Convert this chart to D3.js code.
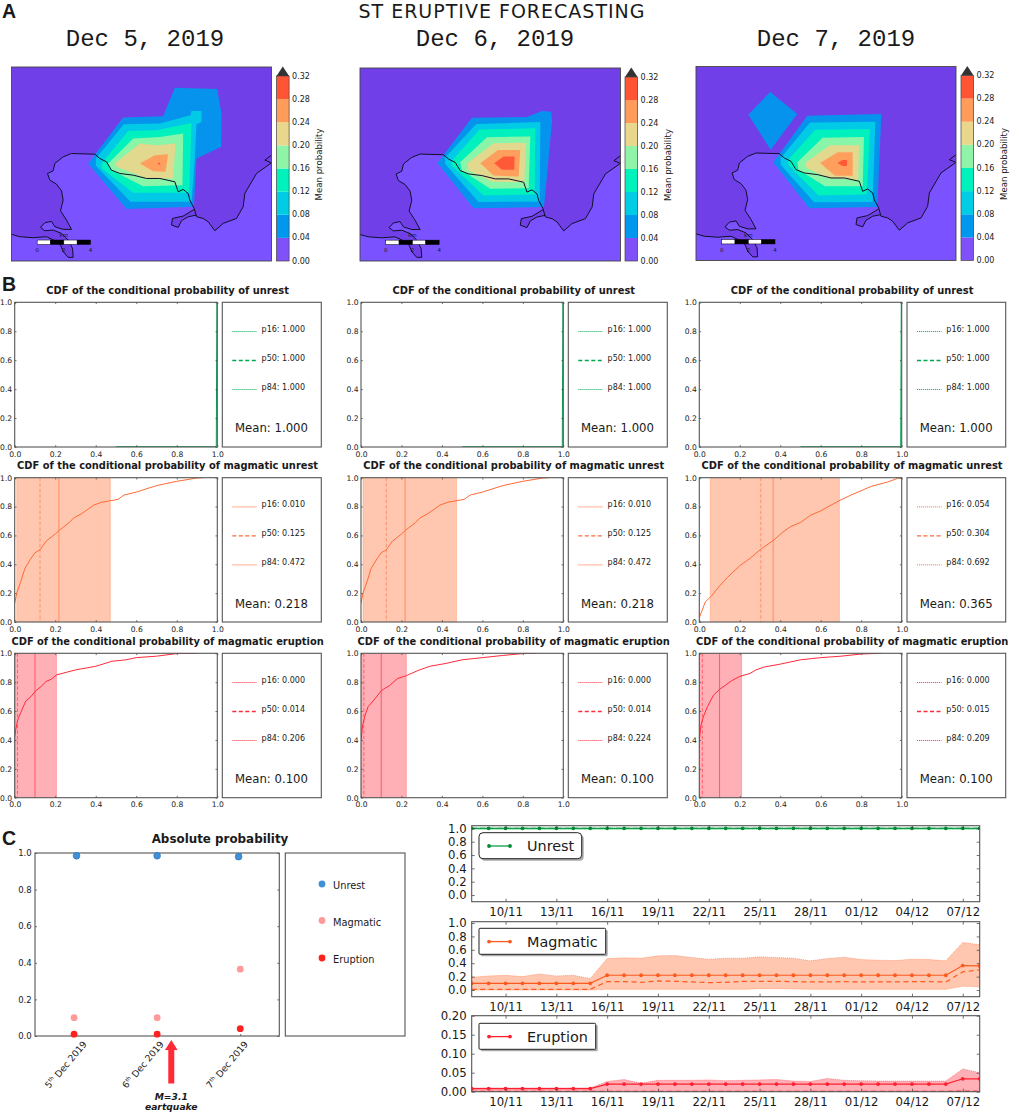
<!DOCTYPE html>
<html lang="en">
<head>
<meta charset="UTF-8">
<title>ST eruptive forecasting</title>
<script src="https://cdn.jsdelivr.net/npm/d3@7"></script>
<style>
  html, body { margin: 0; padding: 0; background: #fff; }
  svg { display: block; font-family: "DejaVu Sans", sans-serif; }
  text { fill: #1a1a1a; }
</style>
</head>
<body>
<div id="container"></div>
<script>
// --- panel A: contour polygons in map units (780 x 583) ---
const mapDates = ["Dec 5, 2019", "Dec 6, 2019", "Dec 7, 2019"];
const levels = [0, 0.04, 0.08, 0.12, 0.16, 0.2, 0.24, 0.28, 0.32];
const levelColors = ["#8050f8", "#0098ee", "#00cce4", "#00f2bc", "#90f4a8", "#e8d78c", "#ff9c5c", "#ff5535"];

const contoursDec5 = [
  [[230,290],[335,152],[455,148],[490,62],[617,66],[630,140],[629,240],[555,275],[547,420],[345,427]],
  [[253,275],[337,172],[445,170],[537,145],[540,132],[570,132],[570,165],[555,172],[550,275],[540,405],[357,405],[253,297]],
  [[270,290],[350,192],[435,190],[540,168],[533,378],[365,378],[270,305]],
  [[290,290],[365,215],[445,210],[515,200],[513,355],[395,358],[300,310]],
  [[310,290],[385,230],[435,235],[492,230],[485,335],[405,335],[315,300]],
  [[385,290],[430,265],[470,262],[462,315],[425,313]],
  [[440,288],[446,288],[446,293],[440,293]]
];
const contoursDec6 = [
  [[232,287],[335,150],[500,148],[545,130],[573,132],[575,160],[552,410],[550,420],[340,424]],
  [[255,270],[348,169],[540,163],[540,185],[538,403],[355,405],[255,290]],
  [[275,280],[358,186],[525,182],[523,382],[370,385],[275,295]],
  [[300,285],[380,209],[510,207],[505,363],[390,365],[305,310]],
  [[322,288],[400,227],[497,226],[492,345],[395,343],[325,310]],
  [[360,288],[413,248],[480,248],[475,328],[400,325]],
  [[402,288],[430,267],[463,267],[462,307],[425,307]]
];
const contoursDec7 = [
  [[232,288],[334,148],[556,143],[544,422],[340,426]],
  [[254,275],[342,168],[538,166],[530,407],[354,408],[254,295]],
  [[277,280],[357,190],[522,188],[512,385],[367,388],[277,295]],
  [[304,288],[380,214],[504,212],[500,360],[387,360],[307,310]],
  [[327,290],[402,237],[489,237],[487,340],[397,335],[332,305]],
  [[372,290],[425,258],[470,258],[470,328],[417,328]],
  [[424,290],[440,281],[453,281],[453,299],[440,299]]
];
const diamondDec7 = [[157,145],[222,77],[304,143],[224,250]];

const coast = [[0,503],[25,510],[65,513],[105,510],[130,522],[147,535],[155,555],[170,572],[185,572],[183,545],[170,520],[150,500],[125,490],[100,492],[87,482],[100,468],[120,464],[130,480],[155,488],[180,488],[165,460],[147,432],[155,400],[150,372],[135,352],[115,340],[108,320],[125,312],[130,290],[155,270],[180,260],[250,262],[265,275],[285,285],[300,310],[325,320],[365,325],[405,335],[445,335],[490,345],[500,375],[515,368],[530,380],[535,400],[548,425],[555,450],[575,455],[590,465],[610,492],[635,470],[675,455],[695,420],[700,380],[735,320],[780,288]];
const peninsula = [[555,445],[530,450],[510,462],[500,482],[480,475],[483,455],[515,448],[548,428]];
const headland = [[780,265],[760,280],[780,288]];

// --- panel B: CDF curves [value, cumulative probability] ---
const cdfUnrest = [[0.5,0.002],[0.995,0.002],[0.998,1]];
const cdfMagmaticDec5 = [[0,0.13],[0.01,0.2],[0.03,0.28],[0.05,0.37],[0.08,0.44],[0.1,0.48],[0.125,0.5],[0.155,0.56],[0.2,0.61],[0.22,0.635],[0.27,0.69],[0.29,0.72],[0.33,0.75],[0.39,0.81],[0.43,0.83],[0.47,0.84],[0.51,0.85],[0.54,0.88],[0.6,0.9],[0.7,0.945],[0.8,0.975],[0.9,0.998],[0.93,1]];
const cdfMagmaticDec7 = [[0,0.03],[0.03,0.14],[0.06,0.18],[0.1,0.25],[0.14,0.31],[0.2,0.39],[0.25,0.44],[0.3,0.5],[0.37,0.57],[0.41,0.62],[0.45,0.66],[0.5,0.69],[0.53,0.72],[0.55,0.74],[0.6,0.77],[0.69,0.84],[0.75,0.88],[0.85,0.94],[0.93,0.97],[0.98,0.995],[1,1]];
const cdfEruptionDec5 = [[0,0.42],[0.005,0.47],[0.015,0.54],[0.03,0.59],[0.055,0.67],[0.08,0.7],[0.1,0.735],[0.13,0.77],[0.155,0.805],[0.18,0.82],[0.206,0.85],[0.3,0.885],[0.4,0.91],[0.48,0.945],[0.55,0.955],[0.6,0.97],[0.7,0.98],[0.8,0.998],[0.9,1]];
const cdfEruptionDec6 = [[0,0.4],[0.008,0.5],[0.02,0.57],[0.035,0.63],[0.06,0.67],[0.1,0.74],[0.12,0.76],[0.14,0.775],[0.18,0.825],[0.224,0.845],[0.28,0.88],[0.34,0.91],[0.42,0.93],[0.5,0.955],[0.6,0.97],[0.7,0.985],[0.8,0.998],[0.87,1]];
const cdfEruptionDec7 = [[0,0.4],[0.008,0.5],[0.02,0.56],[0.04,0.63],[0.07,0.71],[0.1,0.75],[0.13,0.78],[0.16,0.81],[0.2,0.84],[0.25,0.86],[0.28,0.885],[0.32,0.905],[0.4,0.925],[0.5,0.955],[0.6,0.97],[0.7,0.98],[0.8,0.995],[0.9,1]];

const pctUnrest = [[1,1,1],[1,1,1],[1,1,1]];
const pctMagmatic = [[0.010,0.125,0.472],[0.010,0.125,0.472],[0.054,0.304,0.692]];
const pctEruption = [[0.000,0.014,0.206],[0.000,0.014,0.224],[0.000,0.015,0.209]];
const meanUnrest = [1,1,1];
const meanMagmatic = [0.218,0.218,0.365];
const meanEruption = [0.100,0.100,0.100];

// --- panel C left: absolute probability ---
const absDays = [5, 6, 7];
const absDayLabels = ["5", "6", "7"];
const absUnrestDays = [5.03, 6, 6.98];
const absUnrest = [0.985, 0.985, 0.98];
const absMagmatic = [0.10, 0.10, 0.365];
const absEruption = [0.01, 0.01, 0.04];
const quakeDay = 6.17;

// --- panel C right: daily series from 8 Nov to 8 Dec ---
const seriesDays = d3.timeDay.range(new Date(2019, 10, 8), new Date(2019, 11, 9));
const seriesTicks = d3.timeDay.range(new Date(2019, 10, 10), new Date(2019, 11, 9), 3);

const unrestMean = Array.from(seriesDays, () => 1);
const unrestLow = Array.from(seriesDays, () => 0.985);
const unrestHigh = Array.from(seriesDays, () => 1);

const magmaticMean = [0.1,0.1,0.1,0.1,0.1,0.1,0.1,0.1,0.22,0.22,0.22,0.22,0.22,0.22,0.22,0.22,0.22,0.22,0.22,0.22,0.22,0.22,0.22,0.22,0.22,0.22,0.22,0.22,0.22,0.365,0.36];
const magmaticHigh = [0.19,0.21,0.22,0.2,0.24,0.21,0.22,0.17,0.47,0.48,0.475,0.51,0.515,0.485,0.46,0.475,0.475,0.495,0.485,0.475,0.435,0.47,0.49,0.455,0.445,0.44,0.46,0.455,0.435,0.71,0.675];
const magmaticMedian = [0.01,0.01,0.01,0.01,0.01,0.01,0.01,0.01,0.125,0.125,0.115,0.135,0.13,0.12,0.11,0.115,0.13,0.13,0.13,0.125,0.12,0.12,0.125,0.12,0.12,0.12,0.125,0.125,0.12,0.27,0.3];
const magmaticLow = [0,0,0,0,0,0,0,0,0.01,0.01,0.01,0.01,0.01,0.01,0.01,0.01,0.01,0.02,0.02,0.015,0.01,0.01,0.01,0.01,0.01,0.01,0.01,0.01,0.01,0.055,0.045];

const eruptionMean = [0.008,0.008,0.008,0.008,0.008,0.008,0.008,0.008,0.02,0.02,0.02,0.02,0.02,0.02,0.02,0.02,0.02,0.02,0.02,0.02,0.02,0.02,0.02,0.02,0.02,0.02,0.02,0.02,0.02,0.034,0.034];
const eruptionHigh = [0.01,0.01,0.01,0.01,0.01,0.01,0.01,0.01,0.027,0.032,0.022,0.03,0.03,0.03,0.031,0.029,0.03,0.031,0.032,0.028,0.027,0.035,0.03,0.029,0.028,0.028,0.028,0.028,0.028,0.06,0.05];
const eruptionMedian = [0.001,0.001,0.001,0.001,0.001,0.001,0.001,0.001,0.001,0.001,0.001,0.001,0.001,0.001,0.001,0.001,0.001,0.001,0.001,0.001,0.001,0.001,0.001,0.001,0.001,0.001,0.001,0.001,0.001,0.002,0.001];
const eruptionLow = Array.from(seriesDays, () => 0);

const frameColor = "#555";
const svg = d3.select("#container").append("svg")
  .attr("width", 1010).attr("height", 1115).attr("viewBox", [0, 0, 1010, 1115]);

let clipCount = 0;
function addClip(x0, y0, w, h) {
  const id = "clip" + (clipCount++);
  svg.append("clipPath").attr("id", id).append("rect")
    .attr("x", x0).attr("y", y0).attr("width", w).attr("height", h);
  return `url(#${id})`;
}

function label(txt, x, y, size, opts = {}) {
  return svg.append("text").attr("x", x).attr("y", y).attr("font-size", size)
    .attr("text-anchor", opts.anchor || "start")
    .attr("font-weight", opts.weight || "normal")
    .attr("font-family", opts.family || null)
    .attr("letter-spacing", opts.spacing || null)
    .text(txt);
}

// frame plus matplotlib style inward ticks on all four sides
function axesFrame(x, y, xTicks, yTicks, fmtX, fmtY, size, padX, padY, tick) {
  const [x0, x1] = x.range(), [y1, y0] = y.range();
  const g = svg.append("g").attr("font-size", size);
  const style = a => {
    a.select(".domain").remove();
    a.selectAll("line").attr("stroke", "#333").attr("stroke-width", 0.7);
    a.selectAll("text").attr("font-size", size).attr("font-family", "DejaVu Sans").attr("fill", "#1a1a1a");
  };
  g.append("g").attr("transform", `translate(0,${y1})`)
    .call(d3.axisBottom(x).tickValues(xTicks).tickFormat(fmtX).tickSize(-tick).tickPadding(padX)).call(style);
  g.append("g").attr("transform", `translate(0,${y0})`)
    .call(d3.axisTop(x).tickValues(xTicks).tickFormat("").tickSize(-tick)).call(style);
  g.append("g").attr("transform", `translate(${x0},0)`)
    .call(d3.axisLeft(y).tickValues(yTicks).tickFormat(fmtY).tickSize(-tick).tickPadding(padY)).call(style);
  g.append("g").attr("transform", `translate(${x1},0)`)
    .call(d3.axisRight(y).tickValues(yTicks).tickFormat("").tickSize(-tick)).call(style);
  boxRect(x0, y0, x1 - x0, y1 - y0);
}

function boxRect(x0, y0, w, h) {
  svg.append("rect").attr("x", x0).attr("y", y0).attr("width", w).attr("height", h)
    .attr("fill", "none").attr("stroke", frameColor).attr("stroke-width", 1.1);
}

// ---------- headings ----------
label("ST ERUPTIVE FORECASTING", 502, 18, 19, { anchor: "middle", spacing: 1 });
label("A", 2, 18, 19.5, { weight: "bold", family: "Liberation Sans" });
label("B", 2, 291, 19.5, { weight: "bold", family: "Liberation Sans" });
label("C", 2, 845, 19.5, { weight: "bold", family: "Liberation Sans" });

// ---------- panel A ----------
const mapBoxes = [
  { x0: 11.5, x1: 271.5, y0: 67, y1: 261, barX: 276.5, barTop: 76, dateX: 145 },
  { x0: 360, x1: 620.5, y0: 68, y1: 261, barX: 625, barTop: 77, dateX: 495 },
  { x0: 696, x1: 956, y0: 66.5, y1: 260.5, barX: 961, barTop: 75.5, dateX: 836 }
];
const mapContours = [contoursDec5, contoursDec6, contoursDec7];
const barW = 12.6;
const landColor = "#703fe8", seaColor = "#7b52ff";

mapBoxes.forEach((b, i) => {
  label(mapDates[i], b.dateX, 46, 24, { anchor: "middle", family: "Liberation Mono" });
  const mx = d3.scaleLinear().domain([0, 780]).range([b.x0, b.x1]);
  const my = d3.scaleLinear().domain([0, 583]).range([b.y0, b.y1]);
  const poly = d3.line().x(d => mx(d[0])).y(d => my(d[1]));
  const g = svg.append("g").attr("clip-path", addClip(b.x0, b.y0, b.x1 - b.x0, b.y1 - b.y0));
  g.append("rect").attr("x", b.x0).attr("y", b.y0).attr("width", b.x1 - b.x0).attr("height", b.y1 - b.y0)
    .attr("fill", landColor);
  // the sea side of the coast sits a little lighter than the land
  const sea = coast.concat([[780, 583], [0, 583]]);
  g.append("path").attr("d", poly(sea) + "Z").attr("fill", seaColor);
  g.append("path").attr("d", poly(peninsula) + "Z").attr("fill", landColor);
  if (i === 2) {
    g.append("path").attr("d", poly(diamondDec7) + "Z").attr("fill", levelColors[1]).attr("fill-opacity", 0.95);
  }
  g.selectAll("path.band").data(mapContours[i]).join("path").attr("class", "band")
    .attr("d", d => poly(d) + "Z")
    .attr("fill", (d, k) => levelColors[k + 1]).attr("fill-opacity", 0.95);
  [coast, peninsula, headland].forEach(c => {
    g.append("path").attr("d", poly(c)).attr("fill", "none").attr("stroke", "#10102a").attr("stroke-width", 1);
  });
  svg.append("rect").attr("x", b.x0).attr("y", b.y0).attr("width", b.x1 - b.x0).attr("height", b.y1 - b.y0)
    .attr("fill", "none").attr("stroke", "#444").attr("stroke-width", 0.9);

  // scale bar, 0 to 4 km
  const km = d3.scaleLinear().domain([0, 4]).range([mx(77), mx(237)]);
  const sy = my(520);
  d3.range(4).forEach(k => {
    svg.append("rect").attr("x", km(k)).attr("y", sy).attr("width", km(k + 1) - km(k)).attr("height", 4.4)
      .attr("fill", k % 2 ? "#000" : "#fff").attr("stroke", "#000").attr("stroke-width", 0.5);
  });
  [0, 2, 4].forEach(v => label(String(v), km(v), sy + 12, 5.5, { anchor: "middle" }));
  label("km", km(2), sy - 3, 5.5, { anchor: "middle" });

  // colour bar
  const by = d3.scaleLinear().domain([0, 0.32]).range([b.y1, b.barTop]);
  svg.append("g").selectAll("rect").data(levelColors).join("rect")
    .attr("x", b.barX).attr("width", barW)
    .attr("y", (d, k) => by(levels[k + 1]))
    .attr("height", (d, k) => by(levels[k]) - by(levels[k + 1]))
    .attr("fill", d => d);
  svg.append("path")
    .attr("d", `M${b.barX},${b.barTop}L${b.barX + barW / 2},${b.barTop - 9.5}L${b.barX + barW},${b.barTop}Z`)
    .attr("fill", "#333");
  svg.append("rect").attr("x", b.barX).attr("y", b.barTop).attr("width", barW).attr("height", b.y1 - b.barTop)
    .attr("fill", "none").attr("stroke", "#444").attr("stroke-width", 0.7);
  levels.forEach(v => {
    label(v.toFixed(2), b.barX + barW + 3, by(v) + 2.5, 8);
  });
  const ly = (b.y1 + b.barTop) / 2 - 4;
  label("Mean probability", 0, 0, 8.6, { anchor: "middle" })
    .attr("transform", `translate(${b.barX + barW + 33},${ly}) rotate(-90)`)
    .attr("x", null).attr("y", null);
});

// ---------- panel B ----------
const cdfCols = [
  { x0: 14.7, x1: 217.3, bx0: 222.3, bx1: 321.3 },
  { x0: 361, x1: 563.3, bx0: 568.3, bx1: 667.3 },
  { x0: 699.3, x1: 901.7, bx0: 907, bx1: 1005.7 }
];
const cdfRows = [
  { y0: 302.3, y1: 447, title: "CDF of the conditional probability of unrest", color: "#00a651", band: null,
    curves: [cdfUnrest, cdfUnrest, cdfUnrest], pct: pctUnrest, mean: meanUnrest },
  { y0: 477.7, y1: 622, title: "CDF of the conditional probability of magmatic unrest", color: "#ff6a35", band: "#ffc7b0",
    curves: [cdfMagmaticDec5, cdfMagmaticDec5, cdfMagmaticDec7], pct: pctMagmatic, mean: meanMagmatic },
  { y0: 653.3, y1: 797.7, title: "CDF of the conditional probability of magmatic eruption", color: "#ff2a3a", band: "#ffb0b6",
    curves: [cdfEruptionDec5, cdfEruptionDec6, cdfEruptionDec7], pct: pctEruption, mean: meanEruption }
];
const unitTicks = [0, 0.2, 0.4, 0.6, 0.8, 1];
const titleY = [294, 469, 644.5];

cdfRows.forEach((row, r) => {
  cdfCols.forEach((c, i) => {
    label(row.title, (c.x0 + c.bx1) / 2 - 0.4, titleY[r], 9.9, { anchor: "middle", weight: "bold" });
    const x = d3.scaleLinear().domain([0, 1]).range([c.x0, c.x1]);
    const y = d3.scaleLinear().domain([0, 1]).range([row.y1, row.y0]);
    const [p16, p50, p84] = row.pct[i];
    const g = svg.append("g").attr("clip-path", addClip(c.x0, row.y0, c.x1 - c.x0, row.y1 - row.y0));
    if (row.band) {
      g.append("rect").attr("x", x(p16)).attr("y", row.y0).attr("width", x(p84) - x(p16)).attr("height", row.y1 - row.y0)
        .attr("fill", row.band);
      g.selectAll("line.edge").data([p16, p84]).join("line").attr("class", "edge")
        .attr("x1", d => x(d)).attr("x2", d => x(d)).attr("y1", row.y0).attr("y2", row.y1)
        .attr("stroke", row.color).attr("stroke-width", 0.5).attr("stroke-opacity", 0.6);
      g.append("line").attr("x1", x(p50)).attr("x2", x(p50)).attr("y1", row.y0).attr("y2", row.y1)
        .attr("stroke", row.color).attr("stroke-width", 1).attr("stroke-dasharray", "3.5 2").attr("stroke-opacity", 0.6);
      g.append("line").attr("x1", x(row.mean[i])).attr("x2", x(row.mean[i])).attr("y1", row.y0).attr("y2", row.y1)
        .attr("stroke", row.color).attr("stroke-width", 1.1).attr("stroke-opacity", 0.6);
    }
    g.append("path").datum(row.curves[i])
      .attr("d", d3.line().x(d => x(d[0])).y(d => y(d[1])))
      .attr("fill", "none").attr("stroke", row.color).attr("stroke-width", 1);
    axesFrame(x, y, unitTicks, unitTicks, d3.format(".1f"), d3.format(".1f"), 7.6, 4.4, 2.5, 1.8);

    // side box with percentiles and mean
    boxRect(c.bx0, row.y0, c.bx1 - c.bx0, row.y1 - row.y0);
    ["p16", "p50", "p84"].forEach((name, k) => {
      const ty = row.y0 + 28 + 29 * k;
      const dashed = k === 1;
      svg.append("line").attr("x1", c.bx0 + 10).attr("x2", c.bx0 + 34.5).attr("y1", ty + 1.2).attr("y2", ty + 1.2)
        .attr("stroke", row.color)
        .attr("stroke-width", dashed ? 1.4 : 1)
        .attr("stroke-dasharray", dashed ? "4 2.5" : "1.2 0.8")
        .attr("stroke-opacity", dashed ? 1 : 0.85);
      label(`${name}: ${row.pct[i][k].toFixed(3)}`, c.bx0 + 39.3, ty + 1.2, 8);
    });
    label(`Mean: ${row.mean[i].toFixed(3)}`, c.bx0 + 12.7, row.y0 + 130, 11.7);
  });
});

// ---------- panel C, absolute probability ----------
const ax = d3.scaleLinear().domain([4.53, 7.47]).range([35, 279.3]);
const ay = d3.scaleLinear().domain([0, 1]).range([1036, 853]);
axesFrame(ax, ay, absDays, [0, 0.2, 0.4, 0.6, 0.8, 1], () => "", d3.format(".1f"), 8.5, 3, 3.3, 2);
label("Absolute probability", 220, 842.5, 11.9, { anchor: "middle", weight: "bold" });

const dotSets = [
  { days: absDays, vals: absMagmatic, color: "#ff9a9a", line: "none" },
  { days: absDays, vals: absEruption, color: "#ff2020", line: "none" },
  { days: absUnrestDays, vals: absUnrest, color: "#4090d8", line: "#2a70b0" }
];
dotSets.forEach(s => {
  svg.append("g").selectAll("circle").data(s.vals).join("circle")
    .attr("cx", (d, i) => ax(s.days[i])).attr("cy", d => ay(d)).attr("r", 3.4)
    .attr("fill", s.color).attr("stroke", s.line).attr("stroke-width", 0.6);
});

absDays.forEach((d, i) => {
  const t = svg.append("text").attr("font-size", 9.2).attr("text-anchor", "end")
    .attr("transform", `translate(${ax(d) + [8, 2, 3][i]},${1040}) rotate(-50)`)
    .attr("dy", "0.7em");
  t.append("tspan").text(absDayLabels[i]);
  t.append("tspan").attr("font-size", 5.5).attr("dy", "-0.6em").text("th");
  t.append("tspan").attr("dy", "0.4em").text(" Dec 2019");
});

// earthquake arrow
const qx = ax(quakeDay);
svg.append("path")
  .attr("d", `M${qx - 3},1083.5V1050H${qx - 6.3}L${qx},1040L${qx + 6.3},1050H${qx + 3}V1083.5Z`)
  .attr("fill", "#ff2a35");
label("M=3.1", qx, 1099.5, 9.2, { anchor: "middle", weight: "bold" }).attr("font-style", "italic");
label("eartquake", qx, 1110, 9.2, { anchor: "middle", weight: "bold" }).attr("font-style", "italic");

// side box
boxRect(285.3, 853, 119.7, 183);
[["Unrest", "#4090d8", 884], ["Magmatic", "#ff9a9a", 920.5], ["Eruption", "#ff2020", 958]].forEach(d => {
  svg.append("circle").attr("cx", 322).attr("cy", d[2]).attr("r", 3.4).attr("fill", d[1]);
  label(d[0], 333, d[2] + 5, 9.8);
});

// ---------- panel C, daily series ----------
const tx = d3.scaleTime().domain([new Date(2019, 10, 8), new Date(2019, 11, 8)]).range([471.7, 979.7]);
const seriesRows = [
  { y0: 825.7, y1: 901.7, domain: [-0.1, 1.04], ticks: [0, 0.2, 0.4, 0.6, 0.8, 1], fmt: ".1f", name: "Unrest",
    color: "#0a9e45", dot: "#008a35", band: "#9fdcb4", mean: unrestMean, median: unrestMean, low: unrestLow, high: unrestHigh,
    box: [479, 832.7, 102.7, 26], radius: 4 },
  { y0: 921.7, y1: 996.7, domain: [-0.1, 1.02], ticks: [0, 0.2, 0.4, 0.6, 0.8, 1], fmt: ".1f", name: "Magmatic",
    color: "#ff5a1e", dot: "#ff5a1e", band: "#ffc7b0", mean: magmaticMean, median: magmaticMedian, low: magmaticLow, high: magmaticHigh,
    box: [479, 928.3, 126.7, 26], radius: 1 },
  { y0: 1015.7, y1: 1091.7, domain: [0, 0.2], ticks: [0, 0.05, 0.1, 0.15, 0.2], fmt: ".2f", name: "Eruption",
    color: "#ff1f30", dot: "#ff1f30", band: "#ffb0b6", mean: eruptionMean, median: eruptionMedian, low: eruptionLow, high: eruptionHigh,
    box: [479, 1023.3, 116.7, 26], radius: 1 }
];

seriesRows.forEach(row => {
  const y = d3.scaleLinear().domain(row.domain).range([row.y1, row.y0]);
  const g = svg.append("g").attr("clip-path", addClip(471.7, row.y0, 508, row.y1 - row.y0));
  const lineOf = vals => d3.line().x((d, i) => tx(seriesDays[i])).y(d => y(d))(vals);
  g.append("path")
    .attr("d", d3.area().x((d, i) => tx(seriesDays[i])).y0((d, i) => y(row.low[i])).y1(d => y(d))(row.high))
    .attr("fill", row.band);
  [row.low, row.high].forEach(v => {
    g.append("path").attr("d", lineOf(v)).attr("fill", "none")
      .attr("stroke", row.color).attr("stroke-width", 0.8).attr("stroke-dasharray", "1 1").attr("stroke-opacity", 0.6);
  });
  g.append("path").attr("d", lineOf(row.median)).attr("fill", "none")
    .attr("stroke", row.color).attr("stroke-width", 1.2).attr("stroke-dasharray", "5 3.5");
  g.append("path").attr("d", lineOf(row.mean)).attr("fill", "none")
    .attr("stroke", row.color).attr("stroke-width", 1.2);
  g.selectAll("circle").data(row.mean).join("circle")
    .attr("cx", (d, i) => tx(seriesDays[i])).attr("cy", d => y(d)).attr("r", 1.9).attr("fill", row.dot);
  axesFrame(tx, y, seriesTicks, row.ticks, d3.timeFormat("%d/%m"), d3.format(row.fmt), 11.7, 6, 5, 3);

  // legend box with a drop shadow
  const [bx, by, bw, bh] = row.box;
  svg.append("rect").attr("x", bx + 2).attr("y", by + 2).attr("width", bw).attr("height", bh)
    .attr("rx", row.radius).attr("fill", "#aaa");
  svg.append("rect").attr("x", bx).attr("y", by).attr("width", bw).attr("height", bh)
    .attr("rx", row.radius).attr("fill", "#fff").attr("stroke", "#222").attr("stroke-width", 1);
  const ly = by + bh / 2 + 0.3;
  svg.append("line").attr("x1", bx + 10).attr("x2", bx + 31).attr("y1", ly).attr("y2", ly)
    .attr("stroke", row.color).attr("stroke-width", 1.3);
  [bx + 10, bx + 31].forEach(px => {
    svg.append("circle").attr("cx", px).attr("cy", ly).attr("r", 1.9).attr("fill", row.dot);
  });
  label(row.name, bx + 48, ly + 5.2, 14.4);
});
</script>
</body>
</html>
